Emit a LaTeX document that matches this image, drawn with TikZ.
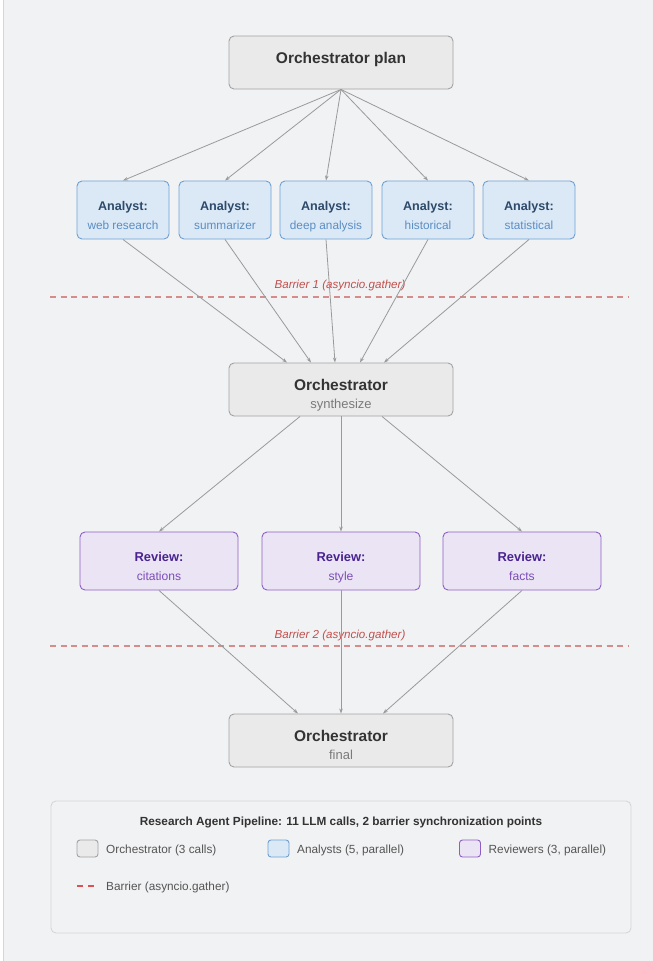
\documentclass[tikz,border=0pt]{standalone}
\usepackage{fontspec}
\setmainfont{Liberation Sans}
\usetikzlibrary{arrows.meta,calc}
\definecolor{bgc}{HTML}{F1F2F4}
\definecolor{orchfill}{HTML}{EAEAEA}
\definecolor{orchdraw}{HTML}{A3A3A3}
\definecolor{orchtxt}{HTML}{333333}
\definecolor{orchsub}{HTML}{7A7A7A}
\definecolor{anfill}{HTML}{DBE9F7}
\definecolor{andraw}{HTML}{6FA0D2}
\definecolor{antxt}{HTML}{2D4A6A}
\definecolor{ansub}{HTML}{5B8DC2}
\definecolor{rvfill}{HTML}{EAE4F5}
\definecolor{rvdraw}{HTML}{8D5EC4}
\definecolor{rvtxt}{HTML}{4A2390}
\definecolor{rvsub}{HTML}{7C4DB8}
\definecolor{barc}{HTML}{D58C8A}
\definecolor{bartxt}{HTML}{C0504D}
\definecolor{legbar}{HTML}{E05050}
\definecolor{arrc}{HTML}{9A9A9A}
\definecolor{legdraw}{HTML}{D6D6D6}
\definecolor{legtxt}{HTML}{555555}
\tikzset{
  orchbox/.style={draw=orchdraw,fill=orchfill,line width=0.9pt,rounded corners=5pt,minimum width=224pt,minimum height=53pt,inner sep=0pt},
  anbox/.style={draw=andraw,fill=anfill,line width=0.9pt,rounded corners=5pt,minimum width=92pt,minimum height=58pt,inner sep=0pt},
  rvbox/.style={draw=rvdraw,fill=rvfill,line width=0.9pt,rounded corners=5pt,minimum width=158pt,minimum height=58pt,inner sep=0pt},
  orchtitle/.style={font=\bfseries\fontsize{15.5}{18}\selectfont,text=orchtxt,inner sep=0pt,anchor=base},
  orchsubt/.style={font=\fontsize{13}{15}\selectfont,text=orchsub,inner sep=0pt,anchor=base},
  antitle/.style={font=\bfseries\fontsize{12.6}{15}\selectfont,text=antxt,inner sep=0pt,anchor=base},
  ansubt/.style={font=\fontsize{11.8}{14}\selectfont,text=ansub,inner sep=0pt,anchor=base},
  rvtitle/.style={font=\bfseries\fontsize{12.9}{15}\selectfont,text=rvtxt,inner sep=0pt,anchor=base},
  rvsubt/.style={font=\fontsize{12.1}{14}\selectfont,text=rvsub,inner sep=0pt,anchor=base},
  conn/.style={draw=arrc,line width=0.8pt,-{Stealth[length=5pt,width=3.5pt]}},
  barline/.style={draw=barc,line width=1.2pt,dash pattern=on 6pt off 4.5pt},
  bartext/.style={font=\itshape\fontsize{11.6}{13}\selectfont,text=bartxt,inner sep=0pt,anchor=base},
  legtext/.style={font=\fontsize{11.8}{13}\selectfont,text=legtxt,inner sep=0pt,anchor=base west},
  swatch/.style={line width=0.9pt,rounded corners=3pt,minimum width=21pt,minimum height=17pt,inner sep=0pt}
}
\begin{document}
\begin{tikzpicture}[x=1pt,y=-1pt]
\useasboundingbox (0,0) rectangle (653,961);
\fill[white] (0,0) rectangle (653,961);
\fill[bgc] (3,0) rectangle (653,961);
\draw[legdraw,line width=0.5pt] (3,0) -- (3,961);

% orchestrator plan
\node[orchbox] (plan) at (341,62.5) {};
\node[orchtitle] (plant) at (341,63) {Orchestrator plan};

% analysts
\foreach \i/\x/\s in {1/123/web research,2/225/summarizer,3/326/deep analysis,4/428/historical,5/529/statistical}{
  \node[anbox] (an\i) at (\x,210) {};
  \node[antitle] (ant\i) at (\x,210) {Analyst:};
  \node[ansubt] (ans\i) at (\x,229) {\s};
}

% barrier 1
\coordinate (b1l) at (50,297);
\coordinate (b1r) at (628,297);
\draw[barline] (b1l) -- (b1r);
\node[bartext] (b1t) at (340,288.5) {Barrier 1 (asyncio.gather)};

% synthesize
\node[orchbox] (syn) at (341,389.5) {};
\node[orchtitle] (synt) at (341,390.5) {Orchestrator};
\node[orchsubt] (syns) at (341,408.5) {synthesize};

% reviews
\foreach \i/\x/\s in {1/159/citations,2/341/style,3/522/facts}{
  \node[rvbox] (rv\i) at (\x,561) {};
  \node[rvtitle] (rvt\i) at (\x,561.5) {Review:};
  \node[rvsubt] (rvs\i) at (\x,580) {\s};
}

% barrier 2
\coordinate (b2l) at (50,646);
\coordinate (b2r) at (628,646);
\draw[barline] (b2l) -- (b2r);
\node[bartext] (b2t) at (340,638) {Barrier 2 (asyncio.gather)};

% final
\node[orchbox] (fin) at (341,740.5) {};
\node[orchtitle] (fint) at (341,741.5) {Orchestrator};
\node[orchsubt] (fins) at (341,759.5) {final};

% connectors
\foreach \i in {1,...,5}{ \draw[conn] (plan.south) -- (an\i.north); }
\foreach \i/\dx in {1/-54,2/-30,3/-6,4/19,5/43}{
  \draw[conn] (an\i.south) -- ($(syn.north)+(\dx,0)$);
}
\draw[conn] ($(syn.south)+(-41,0)$) -- (rv1.north);
\draw[conn] (syn.south) -- (rv2.north);
\draw[conn] ($(syn.south)+(41,0)$) -- (rv3.north);
\draw[conn] (rv1.south) -- ($(fin.north)+(-43,0)$);
\draw[conn] (rv2.south) -- (fin.north);
\draw[conn] (rv3.south) -- ($(fin.north)+(42,0)$);

% legend
\node[draw=legdraw,fill=bgc,line width=0.9pt,rounded corners=5pt,minimum width=580pt,minimum height=132pt,inner sep=0pt] (leg) at (341,867) {};
\node[font=\bfseries\fontsize{11.8}{13}\selectfont,text=orchtxt,inner sep=0pt,anchor=base] (legt) at (341,825) {Research Agent Pipeline: 11 LLM calls, 2 barrier synchronization points};
\node[swatch,draw=orchdraw,fill=orchfill] (sw1) at (87.5,848.5) {};
\node[legtext] (lt1) at (106,853) {Orchestrator (3 calls)};
\node[swatch,draw=andraw,fill=anfill] (sw2) at (278.5,848.5) {};
\node[legtext] (lt2) at (297,853) {Analysts (5, parallel)};
\node[swatch,draw=rvdraw,fill=rvfill] (sw3) at (470,848.5) {};
\node[legtext] (lt3) at (488.5,853) {Reviewers (3, parallel)};
\coordinate (ldl) at (77,886);
\coordinate (ldr) at (94,886);
\draw[draw=legbar,line width=1.5pt,dash pattern=on 6pt off 5pt] (ldl) -- (ldr);
\node[legtext] (lt4) at (106,890) {Barrier (asyncio.gather)};
\end{tikzpicture}
\end{document}
